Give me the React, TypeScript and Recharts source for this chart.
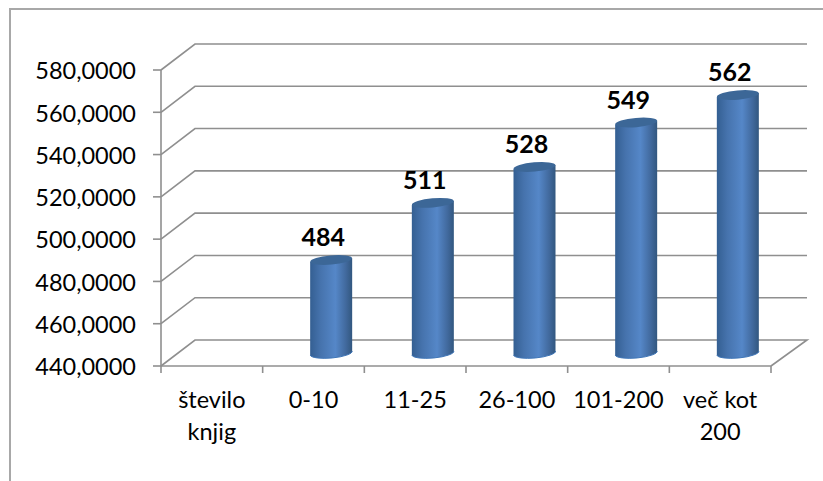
import { BarChart, Bar, XAxis, YAxis, CartesianGrid, LabelList } from "recharts";

const categories = [["število", "knjig"], ["0-10"], ["11-25"], ["26-100"], ["101-200"], ["več kot", "200"]];
const values = [null, 484, 511, 528, 549, 562];
const yTicks = [440, 460, 480, 500, 520, 540, 560, 580];

const data = categories.map((lines, i) => ({ name: lines.join(" "), lines, value: values[i] }));

const FONT = "Lato, 'Open Sans', sans-serif";
const LINE = "#8f8f8f";
// how far the back wall sits from the front plane
const DEPTH_X = 35;
const DEPTH_Y = 26;

function GridLine(props: any) {
  const { x1, x2, y1, index } = props;
  const backY = y1 - DEPTH_Y;
  let d = `M${x1},${y1} L${x1 + DEPTH_X - 1},${backY} L${x2 + DEPTH_X + 1},${backY}`;
  if (index === 0 || y1 > 360) d += ` L${x2},${y1}`;
  return <path d={d} fill="none" stroke={LINE} strokeWidth={1.6} />;
}

function XTick(props: any) {
  const { x, y, payload, width, visibleTicksCount, index } = props;
  const step = width / visibleTicksCount;
  const lines = data[payload.index ?? index].lines;
  const isLast = (payload.index ?? index) === visibleTicksCount - 1;
  return (
    <g>
      <line x1={x - step / 2} x2={x - step / 2} y1={y} y2={y + 7} stroke={LINE} strokeWidth={1.6} />
      {isLast && <line x1={x + step / 2} x2={x + step / 2} y1={y} y2={y + 7} stroke={LINE} strokeWidth={1.6} />}
      {lines.map((t, i) => (
        <text key={t} x={x} y={y + 42 + i * 32} textAnchor="middle" fontSize={23.5} fontFamily={FONT} fill="#000">{t}</text>
      ))}
    </g>
  );
}

// cylinder sitting halfway into the floor depth
function Cylinder(props: any) {
  const { x, y, width, height } = props;
  if (!height) return null;
  const xl = x + 17.5;
  const xr = xl + width;
  const top = y - 13;
  const base = y + height - 13;
  const rx = width / 2;
  const tilt = 2;
  return (
    <g>
      <path
        d={`M${xl},${top + tilt} L${xl},${base + tilt} A${rx},5 -5 0 0 ${xr},${base - tilt} L${xr},${top - tilt} Z`}
        fill="url(#cyl)"
      />
      <path
        d={`M${xl},${base + tilt} A${rx},5 -5 0 0 ${xr},${base - tilt}`}
        fill="none" stroke="#3f76b8" strokeWidth={1}
      />
      <ellipse cx={xl + rx} cy={top} rx={rx} ry={4.6} transform={`rotate(-5 ${xl + rx} ${top})`} fill="#3c6797" />
    </g>
  );
}

function ValueLabel(props: any) {
  const { x, y, width, value } = props;
  if (value == null) return null;
  return (
    <text x={x + width / 2 + 9.5} y={y - 27} textAnchor="middle" fontSize={25} fontWeight={700} fontFamily={FONT} fill="#000">
      {value}
    </text>
  );
}

export default function App() {
  return (
    <div style={{ position: "absolute", left: 0, top: 0, width: 823, height: 481, overflow: "hidden", background: "#fff" }}>
      <div style={{ position: "absolute", left: 9, top: 8, width: 830, height: 490, border: "2px solid #a8a8a8" }} />
      <div style={{ position: "absolute", left: 0, top: 0 }}>
        <BarChart width={823} height={481} data={data} barSize={42} margin={{ top: 70, right: 52, left: 0, bottom: 0 }}>
          <defs>
            <linearGradient id="cyl" x1="0" y1="0" x2="1" y2="0">
              <stop offset="0%" stopColor="#345f92" />
              <stop offset="25%" stopColor="#4673ad" />
              <stop offset="60%" stopColor="#5587c8" />
              <stop offset="85%" stopColor="#41699d" />
              <stop offset="100%" stopColor="#32577f" />
            </linearGradient>
          </defs>
          <CartesianGrid vertical={false} horizontal={GridLine} />
          <XAxis
            dataKey="name"
            height={115}
            interval={0}
            tickLine={false}
            tickSize={0}
            tickMargin={0}
            axisLine={{ stroke: LINE, strokeWidth: 1.6 }}
            tick={XTick}
          />
          <YAxis
            width={161}
            domain={[440, 580]}
            ticks={yTicks}
            interval={0}
            tickSize={8}
            tickMargin={17}
            tickFormatter={(v: number) => `${v},0000`}
            tick={{ fontSize: 23.5, fontFamily: FONT, fill: "#000", dy: 1 }}
            tickLine={{ stroke: LINE, strokeWidth: 1.6 }}
            axisLine={{ stroke: LINE, strokeWidth: 1.6 }}
          />
          <Bar dataKey="value" shape={Cylinder} isAnimationActive={false}>
            <LabelList dataKey="value" content={ValueLabel} />
          </Bar>
        </BarChart>
      </div>
    </div>
  );
}
